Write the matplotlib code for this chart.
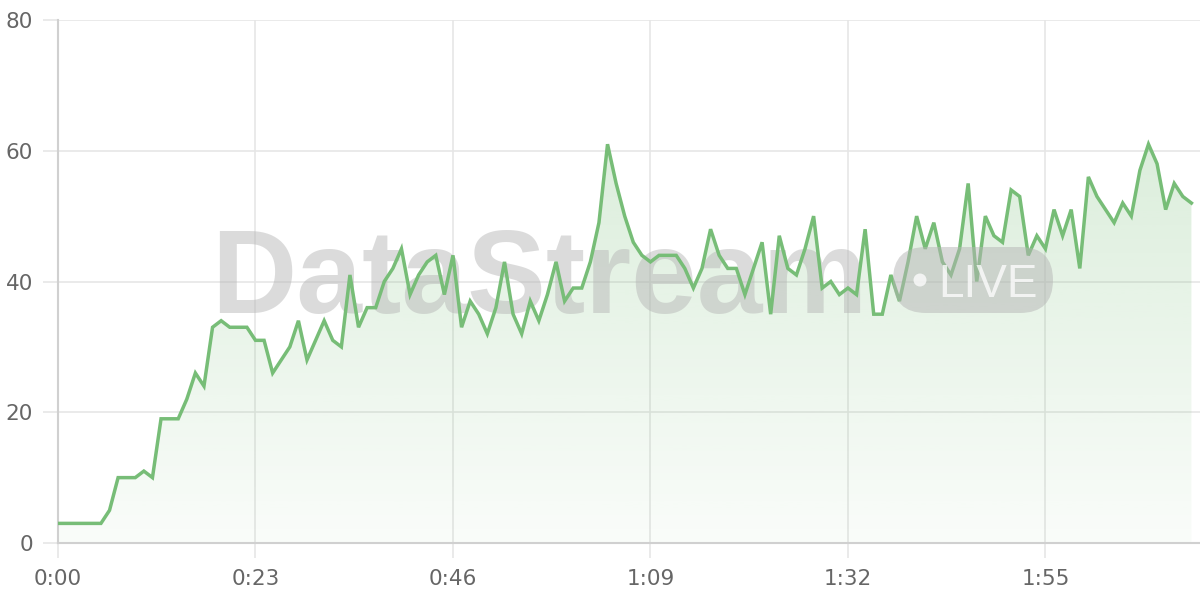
import matplotlib
matplotlib.use("Agg")
import matplotlib.pyplot as plt
import numpy as np
from matplotlib.patches import FancyBboxPatch, Circle

# values, one per second (0:00 .. 2:12)
seconds = list(range(133))
values = [3, 3, 3, 3, 3, 3, 5, 10, 10, 10,
          11, 10, 19, 19, 19, 22, 26, 24, 33, 34,
          33, 33, 33, 31, 31, 26, 28, 30, 34, 28,
          31, 34, 31, 30, 41, 33, 36, 36, 40, 42,
          45, 38, 41, 43, 44, 38, 44, 33, 37, 35,
          32, 36, 43, 35, 32, 37, 34, 38, 43, 37,
          39, 39, 43, 49, 61, 55, 50, 46, 44, 43,
          44, 44, 44, 42, 39, 42, 48, 44, 42, 42,
          38, 42, 46, 35, 47, 42, 41, 45, 50, 39,
          40, 38, 39, 38, 48, 35, 35, 41, 37, 43,
          50, 45, 49, 43, 41, 45, 55, 40, 50, 47,
          46, 54, 53, 44, 47, 45, 51, 47, 51, 42,
          56, 53, 51, 49, 52, 50, 57, 61, 58, 51,
          55, 53, 52]
x_ticks = [0, 23, 46, 69, 92, 115]
x_labels = ["0:00", "0:23", "0:46", "1:09", "1:32", "1:55"]
y_ticks = [0, 20, 40, 60, 80]

green = "#77bd77"
plt.rcParams['font.family'] = ['DejaVu Sans']

fig = plt.figure(figsize=(12, 6), dpi=100)
ax = fig.add_axes([58 / 1200, 57 / 600, 1142 / 1200, 523 / 600])

x = np.array(seconds)
y = np.array(values)

# gradient fill under the line
poly = ax.fill_between(x, y, 0, color="none", lw=0)
grad = np.linspace(0.04, 0.26, 256).reshape(-1, 1)
rgba = np.zeros((256, 1, 4))
rgba[..., 0] = 0x77 / 255
rgba[..., 1] = 0xbd / 255
rgba[..., 2] = 0x77 / 255
rgba[..., 3] = grad
img = ax.imshow(rgba, extent=[0, 132, 0, 61], origin="lower", aspect="auto", zorder=1)
img.set_clip_path(poly.get_paths()[0], transform=ax.transData)

ax.plot(x, y, color=green, lw=2.5, zorder=4, solid_joinstyle="miter")

# watermark
ax.text(0.1337, 0.44, "DataStream", transform=ax.transAxes, fontsize=85,
        fontweight="bold", color="#b5b5b5", alpha=0.48, ha="left", va="baseline",
        family=["Liberation Sans", "DejaVu Sans"], zorder=3)
pill = FancyBboxPatch((8.93, 2.87), 1.60, 0.66,
                      boxstyle="round,pad=0,rounding_size=0.33",
                      transform=fig.dpi_scale_trans, facecolor="#b5b5b5", alpha=0.5,
                      edgecolor="none", zorder=3)
fig.add_artist(pill)
fig.add_artist(Circle((9.20, 3.20), 0.065, transform=fig.dpi_scale_trans,
                      facecolor="white", edgecolor="none", alpha=0.75, zorder=5))
fig.text(938 / 1200, 1 - 297 / 600, "LIVE", fontsize=33, color="white", alpha=0.75,
         ha="left", va="baseline", family=["Liberation Sans", "DejaVu Sans"], zorder=5)

ax.set_xlim(0, 133)
ax.set_ylim(0, 80)
ax.set_xticks(x_ticks)
ax.set_xticklabels(x_labels)
ax.set_yticks(y_ticks)

ax.grid(True, color="#e6e6e6", lw=1.2, zorder=0)
ax.set_axisbelow(True)
ax.tick_params(axis="both", length=11, width=1.2, color="#e6e6e6",
               labelcolor="#666666", labelsize=15.5)
ax.tick_params(axis="y", pad=7)
ax.tick_params(axis="x", pad=8)
for s in ["top", "right"]:
    ax.spines[s].set_visible(False)
for s in ["left", "bottom"]:
    ax.spines[s].set_color("#d0d0d0")
    ax.spines[s].set_linewidth(1.5)

fig.savefig("out.png", dpi=100)
